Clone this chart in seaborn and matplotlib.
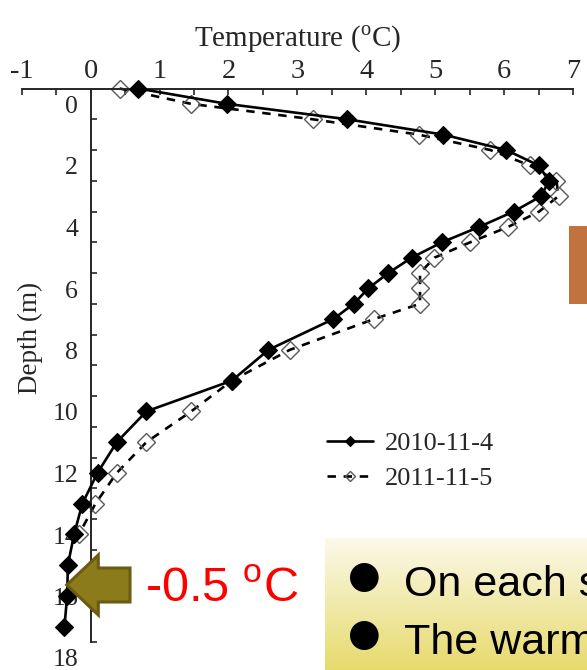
import numpy as np
import pandas as pd
import matplotlib
matplotlib.use("Agg")
import matplotlib.pyplot as plt
import matplotlib.transforms as mtrans
from matplotlib.patches import Rectangle, Polygon
from matplotlib.ticker import MultipleLocator
import seaborn as sns

# ---- data ----
depth_2010 = [0, 0.5, 1.0, 1.5, 2.0, 2.5, 3.0, 3.5, 4.0, 4.5, 5.0, 5.5, 6.0, 6.5, 7.0, 7.5,
              8.5, 9.5, 10.5, 11.5, 12.5, 13.5, 14.5, 15.5, 16.5, 17.5]
temp_2010 = [0.69, 1.98, 3.72, 5.12, 6.03, 6.50, 6.65, 6.54, 6.14, 5.64, 5.10, 4.66, 4.32, 4.03,
             3.82, 3.52, 2.58, 2.05, 0.81, 0.38, 0.10, -0.12, -0.24, -0.33, -0.34, -0.38]
depth_2011 = [0, 0.5, 1.0, 1.5, 2.0, 2.5, 3.0, 3.5, 4.0, 4.5, 5.0, 5.5, 6.0, 6.5, 7.0, 7.5,
              8.5, 9.5, 10.5, 11.5, 12.5, 13.5, 14.5]
temp_2011 = [0.42, 1.46, 3.22, 4.76, 5.80, 6.37, 6.76, 6.79, 6.51, 6.06, 5.51, 4.99, 4.78, 4.78,
             4.78, 4.11, 2.89, 2.05, 1.46, 0.81, 0.38, 0.07, -0.17]
series_labels = ["2010-11-4", "2011-11-5"]
x_ticks = [-1, 0, 1, 2, 3, 4, 5, 6, 7]
y_ticks = [0, 2, 4, 6, 8, 10, 12, 14, 16, 18]
x_title = r"Temperature ($^{\rm o}$C)"
y_title = "Depth (m)"
annot_text = r"-0.5 $^{\mathsf{o}}$C"
bullet_lines = ["On each s", "The warm"]

df10 = pd.DataFrame({"T": temp_2010, "D": depth_2010})
df11 = pd.DataFrame({"T": temp_2011, "D": depth_2011})

sns.set_style("ticks")
plt.rcParams["font.family"] = ["Liberation Serif", "DejaVu Sans"]
plt.rcParams["mathtext.fontset"] = "custom"
plt.rcParams["mathtext.rm"] = "Liberation Serif"
plt.rcParams["mathtext.sf"] = "Liberation Sans"

W, H = 587, 670
fig = plt.figure(figsize=(W / 100, H / 100), dpi=100)
fx = lambda px: px / W
fy = lambda py: 1 - py / H

ax = fig.add_axes([fx(21.7), fy(642), (573 - 21.7) / W, (642 - 88.5) / H])

sns.lineplot(data=df11, x="T", y="D", sort=False, estimator=None, ax=ax,
             color="black", lw=1.9, linestyle=(0, (3.2, 2.9)),
             marker="D", markersize=8.8, markerfacecolor="none",
             markeredgecolor="#5a5a5a", markeredgewidth=1.0,
             label=series_labels[1], clip_on=False, zorder=2)
sns.lineplot(data=df10, x="T", y="D", sort=False, estimator=None, ax=ax,
             color="black", lw=1.9, linestyle="-",
             marker="D", markersize=8.8, markerfacecolor="black",
             markeredgecolor="black", markeredgewidth=0.8,
             label=series_labels[0], clip_on=False, zorder=3)

ax.set_xlim(-1, 7)
ax.set_ylim(18, 0)

ax.xaxis.tick_top()
ax.xaxis.set_label_position("top")
ax.set_xticks(x_ticks)
ax.set_xticklabels([str(v) for v in x_ticks])
ax.xaxis.set_minor_locator(MultipleLocator(0.5))
ax.set_yticks(y_ticks)
ax.set_yticklabels([str(v) for v in y_ticks])
ax.yaxis.set_minor_locator(MultipleLocator(1))

for s in ["bottom", "right"]:
    ax.spines[s].set_visible(False)
ax.spines["left"].set_position(("data", 0))
ax.spines["left"].set_linewidth(1.4)
ax.spines["top"].set_linewidth(1.4)

ax.tick_params(axis="x", which="both", direction="in", length=4, width=1.2,
               top=True, bottom=False, labeltop=True, labelbottom=False, pad=3)
ax.tick_params(axis="x", which="major", labelsize=20.5)
ax.tick_params(axis="y", which="both", direction="in", length=4, width=1.2, pad=9)
ax.tick_params(axis="y", which="major", labelsize=18.5)

off = mtrans.ScaledTranslation(0, -16 / 100, fig.dpi_scale_trans)
for lab in ax.get_yticklabels():
    lab.set_transform(lab.get_transform() + off)

ax.set_xlabel(x_title, fontsize=21, labelpad=9)
ax.set_ylabel(y_title, fontsize=19.5)
ax.yaxis.set_label_coords((30 - 21.7) / (573 - 21.7), (642 - 338) / (642 - 88.5))
ax.yaxis.label.set_va("center")

h, l = ax.get_legend_handles_labels()
order = [l.index(series_labels[0]), l.index(series_labels[1])]
leg = ax.legend([h[i] for i in order], [l[i] for i in order],
                loc="center left", bbox_to_anchor=(fx(327), fy(461)),
                bbox_transform=fig.transFigure, frameon=False, fontsize=19,
                borderpad=0, borderaxespad=0, handlelength=1.75,
                handletextpad=0.45, labelspacing=0.42, markerscale=0.55)

# ---- slide overlays ----
fig.add_artist(Rectangle((fx(569), fy(304)), (587 - 569) / W, (304 - 226) / H,
                         transform=fig.transFigure, facecolor="#C0733F",
                         edgecolor="none", zorder=5))

gax = fig.add_axes([fx(325), fy(670), (587 - 325) / W, (670 - 538) / H])
gax.set_zorder(5)
c_top = np.array(matplotlib.colors.to_rgb("#FBF9EA"))
c_bot = np.array(matplotlib.colors.to_rgb("#E7DA6C"))
tgrid = np.linspace(0, 1, 128)[:, None]
grad = (c_top[None, :] * (1 - tgrid) + c_bot[None, :] * tgrid)[:, None, :]
gax.imshow(grad, aspect="auto", extent=[0, 1, 1, 0])
gax.set_axis_off()

for i, txt in enumerate(bullet_lines):
    yb = [596, 654][i]
    fig.text(fx(348), fy(yb - 19), "\u25CF", fontsize=27, family="DejaVu Sans",
             va="center", ha="left", color="black", zorder=10)
    fig.text(fx(404), fy(yb), txt, fontsize=31, family="Liberation Sans",
             va="baseline", ha="left", color="black", zorder=10)

arrow_px = [(66.7, 585), (98.3, 555), (98.3, 568), (130, 568), (130, 602),
            (98.3, 602), (98.3, 615)]
fig.add_artist(Polygon([(fx(a), fy(b)) for a, b in arrow_px], closed=True,
                       transform=fig.transFigure, facecolor="#8B7B1A",
                       edgecolor="#6A5C12", linewidth=2.2, zorder=6))
fig.text(fx(145), fy(602), annot_text, fontsize=35, family="Liberation Sans",
         color="#FF0000", va="baseline", ha="left", zorder=10)

fig.savefig("out.png", dpi=100)
